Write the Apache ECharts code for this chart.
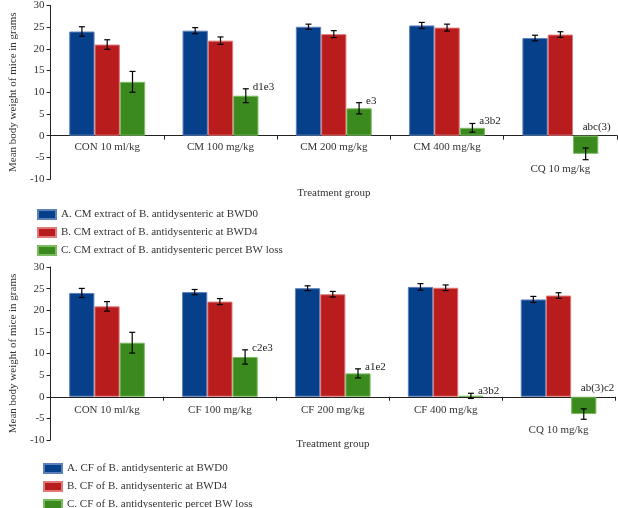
<!DOCTYPE html>
<html>
<head>
<meta charset="utf-8">
<script src="https://cdn.jsdelivr.net/npm/echarts@6/dist/echarts.min.js"></script>
<style>html,body{margin:0;padding:0;background:#fff;}#c{width:618px;height:508px;}</style>
</head>
<body>
<div id="c"></div>
<script>
var catsTop = ['CON 10 ml/kg', 'CM 100 mg/kg', 'CM 200 mg/kg', 'CM 400 mg/kg', 'CQ 10 mg/kg'];
var catsBot = ['CON 10 ml/kg', 'CF 100 mg/kg', 'CF 200 mg/kg', 'CF 400 mg/kg', 'CQ 10 mg/kg'];
var namesTop = ['A. CM extract of B. antidysenteric at BWD0', 'B. CM extract of B. antidysenteric at BWD4', 'C. CM extract of B. antidysenteric percet BW loss'];
var namesBot = ['A. CF of B. antidysenteric at BWD0', 'B. CF of B. antidysenteric at BWD4', 'C. CF of B. antidysenteric percet BW loss'];

var topA = [24.0, 24.2, 25.1, 25.4, 22.5];
var topB = [21.0, 21.9, 23.4, 24.9, 23.3];
var topC = [12.4, 9.2, 6.3, 1.8, -4.2];
var topAErr = [1.1, 0.7, 0.6, 0.7, 0.65];
var topBErr = [1.1, 0.85, 0.8, 0.8, 0.65];
var topCErr = [2.4, 1.6, 1.3, 1.0, 1.35];
var topLabels = ['', 'd1e3', 'e3', 'a3b2', 'abc(3)'];

var botA = [24.0, 24.2, 25.1, 25.4, 22.5];
var botB = [20.9, 22.0, 23.7, 25.2, 23.4];
var botC = [12.5, 9.2, 5.4, 0.2, -4.0];
var botAErr = [1.05, 0.6, 0.55, 0.75, 0.7];
var botBErr = [1.1, 0.7, 0.65, 0.65, 0.65];
var botCErr = [2.4, 1.65, 1.05, 0.6, 1.2];
var botLabels = ['', 'c2e3', 'a1e2', 'a3b2', 'ab(3)c2'];

var yTicks = [-10, -5, 0, 5, 10, 15, 20, 25, 30];

var colors = ['#063f8a', '#b81c1c', '#3a8a1e'];
var borders = ['#5d80b8', '#e07a7a', '#7dbb62'];
var FONT = '"Liberation Serif", "DejaVu Serif", serif';
var GAP = 0.33;

function errData(a, b, c, ea, eb, ec) {
  var d = [];
  [[a, ea], [b, eb], [c, ec]].forEach(function (p, s) {
    p[0].forEach(function (v, i) { d.push([i, v, p[1][i], s]); });
  });
  return d;
}
function labData(c, ec) {
  return c.map(function (v, i) { return [i, v, ec[i]]; });
}
function errRender(params, api) {
  var i = api.value(0), v = api.value(1), e = api.value(2), s = api.value(3);
  var bw = api.size([1, 0])[0] * (1 - GAP) / 3;
  var x = api.coord([i, v])[0] + (s - 1) * bw;
  var yt = api.coord([i, v + e])[1];
  var yb = api.coord([i, v - e])[1];
  var cap = 3;
  var st = { stroke: '#000', lineWidth: 1.2 };
  return { type: 'group', children: [
    { type: 'line', shape: { x1: x, y1: yt, x2: x, y2: yb }, style: st },
    { type: 'line', shape: { x1: x - cap, y1: yt, x2: x + cap, y2: yt }, style: st },
    { type: 'line', shape: { x1: x - cap, y1: yb, x2: x + cap, y2: yb }, style: st }
  ] };
}
function makeLabRender(labels) {
  return function (params, api) {
    var i = api.value(0), v = api.value(1), e = api.value(2);
    var txt = labels[params.dataIndex];
    if (!txt) return null;
    var bw = api.size([1, 0])[0] * (1 - GAP) / 3;
    var x = api.coord([i, v])[0] + bw;
    var tx, ty;
    if (v < 0) {
      tx = x - 3; ty = api.coord([i, 0])[1] - 9;
    } else {
      tx = x + 7; ty = api.coord([i, v + e])[1] - 2;
    }
    return { type: 'text', style: { text: txt, x: tx, y: ty, fill: '#222', font: '11px ' + FONT, verticalAlign: 'middle', align: 'left' } };
  };
}

function makeFmt() {
  return function (v) {
    if (v.indexOf('CQ') === 0) return '{low|' + v + '}';
    return '{n|' + v + '}';
  };
}

var yAxisCommon = {
  type: 'value', min: yTicks[0], max: yTicks[yTicks.length - 1], interval: 5,
  splitLine: { show: false },
  axisLine: { show: true, lineStyle: { color: '#222', width: 1 } },
  axisTick: { show: true, length: 4, lineStyle: { color: '#222' } },
  axisLabel: { color: '#333', fontFamily: FONT, fontSize: 11, margin: 6 },
  name: 'Mean body weight of mice in grams', nameLocation: 'middle',
  nameTextStyle: { color: '#333', fontFamily: FONT, fontSize: 11 }
};
function xAxis(k, data, margin, lowPad, nameGap) {
  return {
    type: 'category', gridIndex: k, data: data,
    axisLine: { onZero: true, lineStyle: { color: '#222', width: 1 } },
    axisTick: { show: true, length: 4, lineStyle: { color: '#222' } },
    axisLabel: { interval: 0, color: '#333', fontFamily: FONT, fontSize: 11, margin: margin, formatter: makeFmt(),
      rich: {
        n: { fontFamily: FONT, fontSize: 11, color: '#333' },
        low: { padding: [lowPad, 0, 0, 0], fontFamily: FONT, fontSize: 11, color: '#333' }
      } },
    name: 'Treatment group', nameLocation: 'middle', nameGap: nameGap,
    nameTextStyle: { color: '#333', fontFamily: FONT, fontSize: 11 }
  };
}

function bars(data, idx, name, k) {
  return { type: 'bar', name: name, data: data, xAxisIndex: k, yAxisIndex: k,
    barGap: '0%', barCategoryGap: (GAP * 100) + '%',
    itemStyle: { color: colors[idx], borderColor: borders[idx], borderWidth: 1 }, animation: false };
}
function leg(name, left, top) {
  return { data: [name], left: left, top: top, padding: 0, itemWidth: 18, itemHeight: 9,
    icon: 'rect', textStyle: { fontFamily: FONT, fontSize: 11, color: '#333' } };
}

var chart = echarts.init(document.getElementById('c'), null, { renderer: 'canvas' });
chart.setOption({
  animation: false,
  color: colors,
  grid: [
    { left: 37, right: 1, top: 3, height: 176 },
    { left: 43, right: 3, top: 267, height: 173 }
  ],
  xAxis: [
    xAxis(0, catsTop, -37, 22, 9),
    xAxis(1, catsBot, -35, 20, -1)
  ],
  yAxis: [
    Object.assign({}, yAxisCommon, { gridIndex: 0, nameGap: 24 }),
    Object.assign({}, yAxisCommon, { gridIndex: 1, nameGap: 30 })
  ],
  legend: [
    leg(namesTop[0], 37, 209),
    leg(namesTop[1], 37, 227),
    leg(namesTop[2], 37, 245),
    leg(namesBot[0], 43, 463),
    leg(namesBot[1], 43, 481),
    leg(namesBot[2], 43, 499)
  ],
  series: [
    bars(topA, 0, namesTop[0], 0),
    bars(topB, 1, namesTop[1], 0),
    bars(topC, 2, namesTop[2], 0),
    { type: 'custom', xAxisIndex: 0, yAxisIndex: 0, renderItem: errRender,
      data: errData(topA, topB, topC, topAErr, topBErr, topCErr), z: 5 },
    { type: 'custom', xAxisIndex: 0, yAxisIndex: 0, renderItem: makeLabRender(topLabels),
      data: labData(topC, topCErr), z: 5 },
    bars(botA, 0, namesBot[0], 1),
    bars(botB, 1, namesBot[1], 1),
    bars(botC, 2, namesBot[2], 1),
    { type: 'custom', xAxisIndex: 1, yAxisIndex: 1, renderItem: errRender,
      data: errData(botA, botB, botC, botAErr, botBErr, botCErr), z: 5 },
    { type: 'custom', xAxisIndex: 1, yAxisIndex: 1, renderItem: makeLabRender(botLabels),
      data: labData(botC, botCErr), z: 5 }
  ]
});
</script>
</body>
</html>
